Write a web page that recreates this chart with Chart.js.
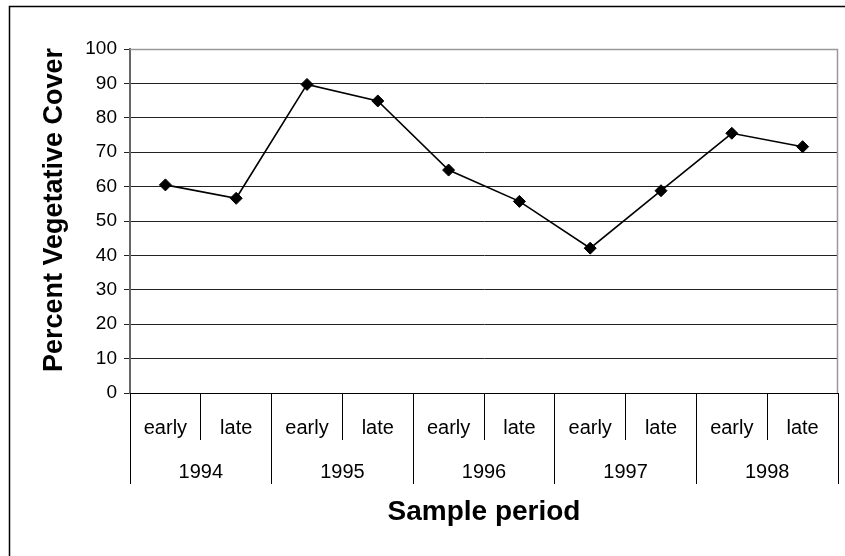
<!DOCTYPE html>
<html>
<head>
<meta charset="utf-8">
<script src="https://cdn.jsdelivr.net/npm/chart.js@4"></script>
<style>
  html, body { margin: 0; padding: 0; background: #fff; }
  #wrap { width: 845px; height: 556px; position: relative; }
</style>
</head>
<body>
<div id="wrap"><canvas id="c" width="845" height="556"></canvas></div>
<script>
const periods = ['early', 'late', 'early', 'late', 'early', 'late', 'early', 'late', 'early', 'late'];
const years = ['1994', '1995', '1996', '1997', '1998'];
const cover = [60.5, 56.6, 89.7, 84.9, 64.8, 55.7, 42.1, 58.8, 75.5, 71.6];
const yTitle = 'Percent Vegetative Cover';
const xTitle = 'Sample period';

const FONT = "'Liberation Sans', Arial, sans-serif";

const framePlugin = {
  id: 'frame',
  beforeDraw(chart) {
    const ctx = chart.ctx;
    ctx.save();
    ctx.fillStyle = '#fff';
    ctx.fillRect(0, 0, chart.width, chart.height);
    ctx.strokeStyle = '#000';
    ctx.lineWidth = 1.5;
    ctx.beginPath();
    ctx.moveTo(9.5, 556);
    ctx.lineTo(9.5, 6.5);
    ctx.lineTo(845, 6.5);
    ctx.stroke();
    ctx.restore();
  },
  beforeDatasetsDraw(chart) {
    const ctx = chart.ctx;
    const a = chart.chartArea;
    ctx.save();
    ctx.strokeStyle = '#999';
    ctx.lineWidth = 1.5;
    ctx.beginPath();
    ctx.moveTo(a.left, Math.round(a.top) + 0.5);
    ctx.lineTo(Math.round(a.right) - 0.5, Math.round(a.top) + 0.5);
    ctx.lineTo(Math.round(a.right) - 0.5, a.bottom);
    ctx.stroke();
    ctx.restore();
  },
  afterDraw(chart) {
    const ctx = chart.ctx;
    ctx.save();
    ctx.translate(55, 210);
    ctx.rotate(-Math.PI / 2);
    ctx.font = "bold 27px " + FONT;
    ctx.fillStyle = '#000';
    ctx.textAlign = 'center';
    ctx.textBaseline = 'middle';
    ctx.fillText(yTitle, 0, 0);
    ctx.restore();
  }
};

new Chart(document.getElementById('c'), {
  type: 'line',
  data: {
    labels: periods,
    datasets: [{
      data: cover,
      xAxisID: 'x',
      yAxisID: 'y',
      borderColor: '#000',
      borderWidth: 1.6,
      backgroundColor: '#000',
      pointStyle: 'rectRot',
      pointRadius: 6,
      pointHoverRadius: 6,
      pointBackgroundColor: '#000',
      pointBorderColor: '#000',
      pointBorderWidth: 1,
      tension: 0,
      fill: false
    }]
  },
  options: {
    responsive: false,
    animation: false,
    events: [],
    layout: { padding: { left: 0, right: 5, top: 49, bottom: 0 } },
    plugins: {
      legend: { display: false },
      tooltip: { enabled: false },
      title: { display: false }
    },
    scales: {
      y: {
        position: 'left',
        min: 0,
        max: 100,
        ticks: {
          stepSize: 10,
          color: '#000',
          padding: 7,
          font: { family: FONT, size: 19 }
        },
        grid: {
          color: (c) => (c.tick && c.tick.value === 100) ? '#999' : '#222',
          lineWidth: 1,
          drawTicks: true,
          tickLength: 6,
          tickColor: '#222'
        },
        border: { display: true, color: '#666', width: 2 },
        afterFit(scale) { scale.width = 130; }
      },
      x: {
        type: 'category',
        position: 'bottom',
        weight: 1,
        offset: true,
        ticks: {
          color: '#000',
          autoSkip: false,
          maxRotation: 0,
          minRotation: 0,
          padding: -24,
          font: { family: FONT, size: 20 }
        },
        grid: {
          offset: true,
          drawOnChartArea: false,
          drawTicks: true,
          tickLength: 47,
          color: '#000',
          lineWidth: 1
        },
        border: { display: true, color: '#000', width: 1 },
        afterFit(scale) { scale.height = 47; }
      },
      x2: {
        type: 'category',
        position: 'bottom',
        weight: 2,
        labels: years,
        offset: true,
        ticks: {
          color: '#000',
          autoSkip: false,
          maxRotation: 0,
          minRotation: 0,
          padding: -24,
          font: { family: FONT, size: 20 }
        },
        grid: {
          offset: true,
          drawOnChartArea: false,
          drawTicks: true,
          tickLength: 44,
          color: '#000',
          lineWidth: 1
        },
        border: { display: false },
        title: {
          display: true,
          text: xTitle,
          color: '#000',
          font: { family: FONT, size: 28, weight: 'bold' },
          padding: { top: 0, bottom: 27 }
        },
        afterFit(scale) { scale.height = 116; }
      }
    }
  },
  plugins: [framePlugin]
});
</script>
</body>
</html>
